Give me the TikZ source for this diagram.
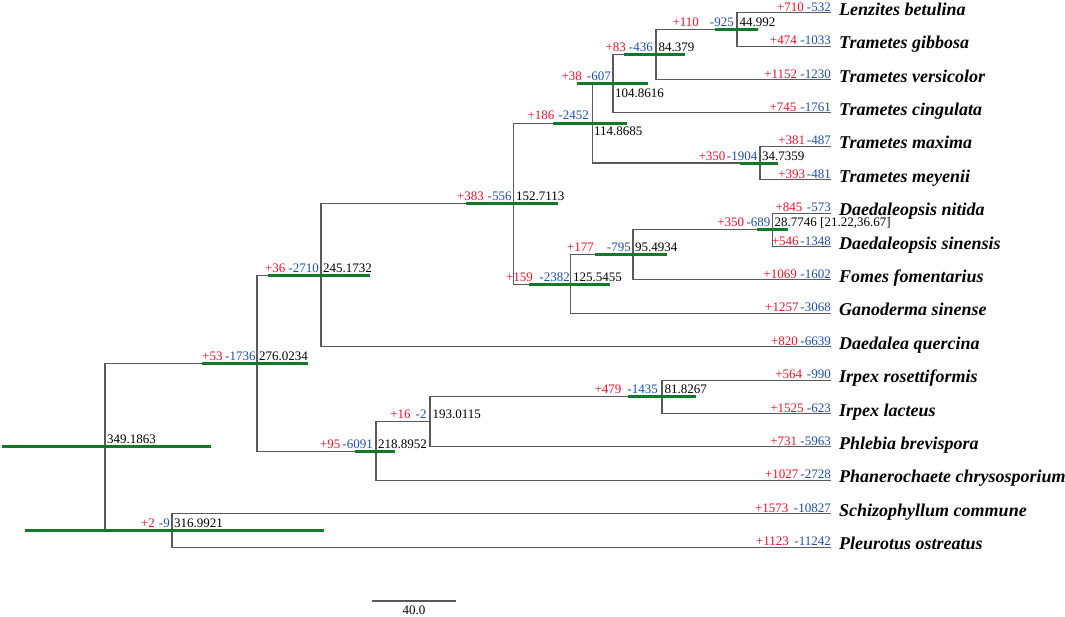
\documentclass[tikz,border=0pt]{standalone}
\usepackage{fontspec}
\setmainfont{Liberation Serif}
\definecolor{nred}{RGB}{232,18,45}
\definecolor{nblue}{RGB}{30,78,168}
\definecolor{ngreen}{RGB}{16,122,40}
\definecolor{nline}{RGB}{90,90,90}
\newcommand{\gl}[3]{\textcolor{nred}{#1}\hspace{#3pt}\textcolor{nblue}{#2}}
\begin{document}
\begin{tikzpicture}[x=1pt,y=-1pt,
  branch/.style={draw=nline,line width=1.1pt},
  hpd/.style={draw=ngreen,line width=3pt},
  num/.style={font=\fontsize{13}{13}\selectfont,inner sep=0pt,anchor=base east},
  age/.style={font=\fontsize{13}{13}\selectfont,inner sep=0pt,anchor=base west,text=black},
  taxon/.style={font=\fontsize{18}{18}\selectfont\bfseries\itshape,inner sep=0pt,anchor=base west}]
\useasboundingbox (0,0) rectangle (1065,616);
% leaf tips
\coordinate (t1) at (831,12.7);
\coordinate (t2) at (831,46.1);
\coordinate (t3) at (831,79.5);
\coordinate (t4) at (831,112.9);
\coordinate (t5) at (831,146.3);
\coordinate (t6) at (831,179.7);
\coordinate (t7) at (831,213.1);
\coordinate (t8) at (831,246.5);
\coordinate (t9) at (831,279.9);
\coordinate (t10) at (831,313.3);
\coordinate (t11) at (831,346.7);
\coordinate (t12) at (831,380.1);
\coordinate (t13) at (831,413.5);
\coordinate (t14) at (831,446.9);
\coordinate (t15) at (831,480.3);
\coordinate (t16) at (831,513.7);
\coordinate (t17) at (831,547.1);
% internal nodes
\coordinate (A) at (737,29.4);
\coordinate (B) at (656,54.45);
\coordinate (C) at (613,83.7);
\coordinate (E) at (760,163);
\coordinate (D) at (592.5,123.35);
\coordinate (J) at (772.5,229.8);
\coordinate (I) at (633,254.85);
\coordinate (H) at (570.5,284.1);
\coordinate (F) at (513.5,203.7);
\coordinate (K) at (321,275.2);
\coordinate (O) at (662,396.8);
\coordinate (N) at (430,421.85);
\coordinate (M) at (376,451.1);
\coordinate (L) at (257,363.15);
\coordinate (P) at (172,530.4);
\coordinate (R) at (105,446.8);
% branches
\draw[branch] (t1) -| (A) |- (t2);
\draw[branch] (A) -| (B) |- (t3);
\draw[branch] (B) -| (C) |- (t4);
\draw[branch] (t5) -| (E) |- (t6);
\draw[branch] (C) -| (D) |- (E);
\draw[branch] (t7) -| (J) |- (t8);
\draw[branch] (J) -| (I) |- (t9);
\draw[branch] (I) -| (H) |- (t10);
\draw[branch] (D) -| (F) |- (H);
\draw[branch] (F) -| (K) |- (t11);
\draw[branch] (t12) -| (O) |- (t13);
\draw[branch] (O) -| (N) |- (t14);
\draw[branch] (N) -| (M) |- (t15);
\draw[branch] (K) -| (L) |- (M);
\draw[branch] (t16) -| (P) |- (t17);
\draw[branch] (L) -| (R) |- (P);
% 95% HPD bars
\draw[hpd] (715,29.4) -- (758,29.4);
\draw[hpd] (624,54.45) -- (685,54.45);
\draw[hpd] (577,83.7) -- (648,83.7);
\draw[hpd] (553,123.35) -- (627,123.35);
\draw[hpd] (740,163) -- (778,163);
\draw[hpd] (466,203.7) -- (558,203.7);
\draw[hpd] (757,229.8) -- (788,229.8);
\draw[hpd] (595,254.85) -- (667,254.85);
\draw[hpd] (529,284.1) -- (610,284.1);
\draw[hpd] (268,275.2) -- (370,275.2);
\draw[hpd] (202,363.15) -- (308,363.15);
\draw[hpd] (355,451.1) -- (395,451.1);
\draw[hpd] (628,396.8) -- (696,396.8);
\draw[hpd] (25,530.4) -- (324,530.4);
\draw[hpd] (2,446.8) -- (211,446.8);
% gain/loss at internal nodes
\node[num] (gA) at (734,26) {\gl{+110}{-925}{11}};
\node[num] (gB) at (653,51) {\gl{+83}{-436}{3}};
\node[num] (gC) at (611,80) {\gl{+38}{-607}{5}};
\node[num] (gD) at (589,119) {\gl{+186}{-2452}{4}};
\node[num] (gE) at (757.5,160) {\gl{+350}{-1904}{1.5}};
\node[num] (gF) at (511.7,200.5) {\gl{+383}{-556}{3.7}};
\node[num] (gJ) at (770.6,226.5) {\gl{+350}{-689}{2.4}};
\node[num] (gI) at (631,251.5) {\gl{+177}{-795}{13}};
\node[num] (gH) at (570,281) {\gl{+159}{-2382}{6.5}};
\node[num] (gK) at (319,272) {\gl{+36}{-2710}{3}};
\node[num] (gL) at (255.7,360) {\gl{+53}{-1736}{2.6}};
\node[num] (gM) at (373,448) {\gl{+95}{-6091}{2}};
\node[num] (gN) at (426.7,418.5) {\gl{+16}{-2}{5}};
\node[num] (gO) at (658,393.5) {\gl{+479}{-1435}{6}};
\node[num] (gP) at (170,527.5) {\gl{+2}{-9}{4}};
% node ages
\node[age] (aA) at (739.5,26) {44.992};
\node[age] (aB) at (658.5,51) {84.379};
\node[age] (aC) at (615,97) {104.8616};
\node[age] (aD) at (594,135.5) {114.8685};
\node[age] (aE) at (762,160) {34.7359};
\node[age] (aF) at (516,200.5) {152.7113};
\node[age] (aJ) at (774.5,226.5) {28.7746 [21.22,36.67]};
\node[age] (aI) at (635,251.5) {95.4934};
\node[age] (aH) at (573,281) {125.5455};
\node[age] (aK) at (323,272) {245.1732};
\node[age] (aL) at (259,360) {276.0234};
\node[age] (aM) at (378,448) {218.8952};
\node[age] (aN) at (432.5,418.5) {193.0115};
\node[age] (aO) at (664.5,393.5) {81.8267};
\node[age] (aP) at (174,527.5) {316.9921};
\node[age] (aR) at (107,443.5) {349.1863};
% gain/loss at tips
\node[num] (g1) at (831,11.2) {\gl{+710}{-532}{3}};
\node[num] (g2) at (831,44.6) {\gl{+474}{-1033}{3.7}};
\node[num] (g3) at (831,78) {\gl{+1152}{-1230}{3.3}};
\node[num] (g4) at (831,111.4) {\gl{+745}{-1761}{4}};
\node[num] (g5) at (831,144.8) {\gl{+381}{-487}{1.9}};
\node[num] (g6) at (831,178.2) {\gl{+393}{-481}{1.9}};
\node[num] (g7) at (831,211.6) {\gl{+845}{-573}{4.5}};
\node[num] (g8) at (831,245) {\gl{+546}{-1348}{1.9}};
\node[num] (g9) at (831,278.4) {\gl{+1069}{-1602}{3.7}};
\node[num] (g10) at (831,311.8) {\gl{+1257}{-3068}{1.9}};
\node[num] (g11) at (831,345.2) {\gl{+820}{-6639}{2.6}};
\node[num] (g12) at (831,378.6) {\gl{+564}{-990}{4.9}};
\node[num] (g13) at (831,412) {\gl{+1525}{-623}{3.4}};
\node[num] (g14) at (831,445.4) {\gl{+731}{-5963}{3.4}};
\node[num] (g15) at (831,478.8) {\gl{+1027}{-2728}{2.1}};
\node[num] (g16) at (831,512.2) {\gl{+1573}{-10827}{5.5}};
\node[num] (g17) at (831,545.6) {\gl{+1123}{-11242}{5.5}};
% taxa
\node[taxon] (n1) at (839,15.2) {Lenzites betulina};
\node[taxon] (n2) at (839,48.6) {Trametes gibbosa};
\node[taxon] (n3) at (839,82) {Trametes versicolor};
\node[taxon] (n4) at (839,115.4) {Trametes cingulata};
\node[taxon] (n5) at (839,148.8) {Trametes maxima};
\node[taxon] (n6) at (839,182.2) {Trametes meyenii};
\node[taxon] (n7) at (839,215.6) {Daedaleopsis nitida};
\node[taxon] (n8) at (839,249) {Daedaleopsis sinensis};
\node[taxon] (n9) at (839,282.4) {Fomes fomentarius};
\node[taxon] (n10) at (839,315.8) {Ganoderma sinense};
\node[taxon] (n11) at (839,349.2) {Daedalea quercina};
\node[taxon] (n12) at (839,382.6) {Irpex rosettiformis};
\node[taxon] (n13) at (839,416) {Irpex lacteus};
\node[taxon] (n14) at (839,449.4) {Phlebia brevispora};
\node[taxon] (n15) at (839,482.8) {Phanerochaete chrysosporium};
\node[taxon] (n16) at (839,516.2) {Schizophyllum commune};
\node[taxon] (n17) at (839,549.6) {Pleurotus ostreatus};
% scale bar
\coordinate (sb1) at (372,601);
\coordinate (sb2) at (456,601);
\draw[branch] (sb1) -- (sb2);
\node[age,anchor=base] (sbl) at (414,614.5) {40.0};
\end{tikzpicture}
\end{document}
